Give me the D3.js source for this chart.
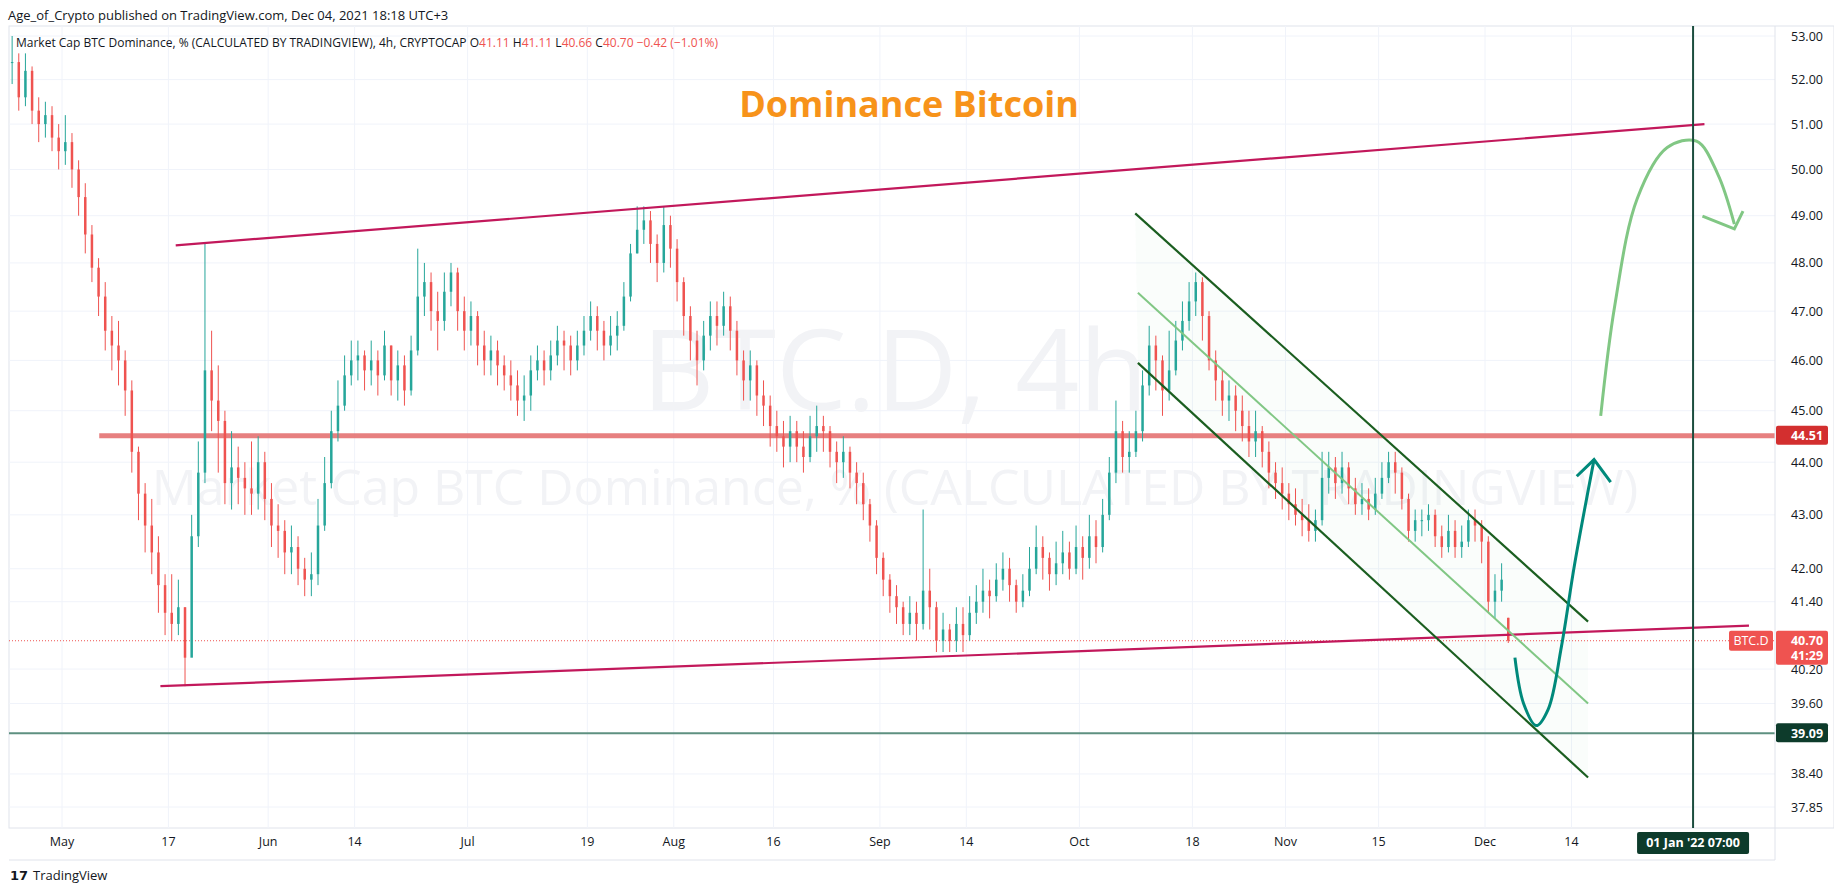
<!DOCTYPE html>
<html><head><meta charset="utf-8">
<script src="https://cdn.jsdelivr.net/npm/d3@7"></script>
<style>
body{margin:0;background:#fff;font-family:"Open Sans","DejaVu Sans",sans-serif}
svg text{font-family:"Open Sans","DejaVu Sans",sans-serif}
</style></head>
<body><svg id="c" width="1834" height="892"></svg>
<script>
// BTC.D 4h chart, daily bars (from Apr 23 2021)
const startDay=Date.UTC(2021,3,23);
const closes=[52.4,51.6,52.2,51.3,51.0,51.2,50.7,50.4,50.6,50.0,49.4,48.6,47.9,47.3,46.6,46.3,46.0,45.4,44.2,43.4,42.8,42.3,41.7,41.2,41.0,41.3,40.4,42.6,43.8,45.8,45.2,44.8,43.6,43.9,43.7,43.5,43.4,44.0,43.3,
42.8,42.7,42.3,42.4,42.0,41.8,41.9,42.8,43.6,44.6,45.1,45.7,46.0,46.1,45.8,46.0,45.7,46.3,45.6,45.9,45.4,46.2,47.3,47.6,47.0,46.8,47.4,47.8,47.0,46.6,46.9,46.3,46.0,46.2,
45.9,45.7,45.5,45.2,45.3,45.8,46.0,45.8,46.1,46.4,46.3,46.0,46.3,46.6,46.9,46.6,46.3,46.5,46.7,47.3,48.2,48.7,48.9,48.4,48.0,48.8,48.3,47.6,46.9,46.4,46.0,
46.5,46.9,46.7,47.1,46.6,46.0,45.6,45.9,45.3,45.1,44.7,44.5,44.3,44.6,44.3,44.1,44.5,44.7,44.6,44.2,44.0,44.2,43.8,43.6,43.2,42.8,42.2,
41.8,41.5,41.3,41.0,41.2,41.0,41.6,41.3,40.7,40.9,40.7,41.0,40.8,41.2,41.4,41.6,41.5,41.8,42.0,41.7,41.4,41.6,42.0,42.4,42.2,41.9,42.1,42.3,42.0,42.4,
42.2,42.6,42.4,43.0,43.8,44.6,44.1,44.2,44.6,45.5,46.3,46.0,45.4,45.8,46.4,46.8,47.2,47.6,46.9,46.0,45.6,45.2,45.3,45.0,44.7,44.4,44.6,44.2,43.8,43.6,43.4,
43.2,43.0,42.9,42.7,42.9,43.7,43.9,43.6,43.9,43.5,43.2,43.3,43.1,43.4,43.7,44.0,43.8,43.3,42.7,42.9,42.9,43.0,42.6,42.4,42.7,42.4,42.5,42.9,42.8,42.5,
41.4,41.6,41.8,40.7];
const highs=[53.0,52.6,52.6,52.3,51.6,51.5,51.4,51.0,51.2,50.8,50.2,49.7,48.8,48.1,47.6,46.9,46.8,46.2,45.6,44.3,43.6,43.3,42.6,41.9,41.9,41.8,41.3,43.0,44.4,48.4,46.6,45.9,45.0,44.6,44.3,44.0,44.4,44.5,44.2,
43.6,43.2,42.9,42.8,42.6,42.2,42.3,43.3,44.1,45.0,45.6,46.1,46.4,46.4,46.2,46.4,46.2,46.6,46.3,46.2,46.1,46.5,48.3,48.0,47.8,47.4,47.8,48.0,47.9,47.3,47.2,47.0,46.6,46.5,
46.4,46.1,46.0,45.8,45.7,46.1,46.3,46.2,46.4,46.7,46.6,46.5,46.6,46.9,47.2,47.1,46.8,46.9,47.0,47.6,48.4,49.2,49.2,49.1,48.6,49.2,49.0,48.5,47.7,47.1,46.6,
46.8,47.2,47.2,47.4,47.3,46.8,46.2,46.2,46.0,45.6,45.3,45.0,44.8,44.9,44.8,44.6,44.9,45.1,44.9,44.7,44.4,44.5,44.3,44.0,43.8,43.3,42.9,
42.3,41.9,41.7,41.4,41.5,41.4,43.1,42.0,41.4,41.2,41.0,41.3,41.3,41.5,41.7,42.0,41.8,42.1,42.3,42.2,41.8,41.9,42.4,42.8,42.6,42.3,42.5,42.7,42.5,42.8,
42.6,43.0,42.9,43.3,44.1,45.2,44.8,44.6,45.0,45.8,46.7,46.5,46.1,46.6,46.8,47.2,47.6,47.8,47.7,47.0,46.2,45.8,45.6,45.5,45.3,45.0,45.0,44.7,44.4,44.0,43.9,
43.6,43.5,43.3,43.2,43.1,44.2,44.2,44.1,44.2,44.0,43.7,43.6,43.5,43.7,44.0,44.2,44.2,43.9,43.4,43.1,43.1,43.2,43.1,42.8,43.0,42.9,42.8,43.1,43.1,42.9,
42.6,41.9,42.1,42.0];
const lows=[51.9,51.3,51.4,51.0,50.6,50.7,50.4,50.0,50.1,49.6,49.0,48.2,47.6,46.9,46.2,45.8,45.5,44.9,43.8,42.9,42.3,41.9,41.2,40.8,40.7,40.8,39.9,40.5,42.4,43.6,44.6,43.8,43.2,43.1,43.2,43.0,43.0,43.1,42.9,
42.4,42.2,41.9,41.9,41.7,41.5,41.5,41.7,42.7,43.5,44.4,45.0,45.5,45.6,45.4,45.5,45.3,45.6,45.3,45.2,45.1,45.3,46.1,46.9,46.6,46.2,46.6,47.1,46.6,46.2,46.3,45.9,45.7,45.7,
45.5,45.4,45.2,44.9,44.8,45.0,45.6,45.5,45.6,45.9,45.8,45.7,45.8,46.1,46.4,46.2,46.0,46.1,46.2,46.6,47.2,48.2,48.4,48.0,47.6,47.8,47.9,47.2,46.5,46.0,45.5,
45.8,46.2,46.3,46.5,46.2,45.7,45.2,45.2,44.9,44.7,44.3,44.2,43.9,44.0,44.0,43.8,44.0,44.2,44.2,43.9,43.6,43.7,43.5,43.2,42.9,42.5,41.9,
41.5,41.2,41.0,40.8,40.8,40.7,40.9,40.9,40.5,40.5,40.5,40.5,40.5,40.7,41.0,41.2,41.1,41.4,41.6,41.4,41.2,41.3,41.5,41.9,41.8,41.6,41.7,41.9,41.8,41.9,
41.8,42.0,42.1,42.3,42.9,43.6,43.8,43.8,44.1,44.4,45.3,45.4,44.9,45.2,45.7,46.2,46.6,46.9,46.4,45.8,45.2,44.9,44.8,44.6,44.4,44.1,44.1,43.9,43.5,43.3,43.1,
42.9,42.8,42.6,42.5,42.5,42.8,43.4,43.3,43.4,43.2,43.0,43.0,42.9,43.0,43.3,43.6,43.4,43.1,42.5,42.5,42.6,42.7,42.4,42.2,42.3,42.2,42.2,42.4,42.5,42.1,
41.2,41.1,41.4,40.6];

const priceTicks=[53,52,51,50,49,48,47,46,45,44,43,42,41.4,40.2,39.6,38.4,37.85];
const dateTicks=[["2021-05-01","May"],["2021-05-17","17"],["2021-06-01","Jun"],["2021-06-14","14"],["2021-07-01","Jul"],["2021-07-19","19"],
 ["2021-08-01","Aug"],["2021-08-16","16"],["2021-09-01","Sep"],["2021-09-14","14"],["2021-10-01","Oct"],["2021-10-18","18"],
 ["2021-11-01","Nov"],["2021-11-15","15"],["2021-12-01","Dec"],["2021-12-14","14"]];

// drawings: [days since May 1, price]
const upperTrend=[[17.1,48.37],[247,51.0]];
const lowerTrend=[[14.8,39.9],[253.7,40.97]];
const chanTop=[[161.4,49.05],[229.5,41.04]];
const chanMid=[[161.8,47.38],[229.5,39.6]];
const chanBot=[[161.8,45.95],[229.5,38.34]];
const tealArc=[[218.5,40.4],[219.8,39.6],[221.7,39.22],[223.5,39.5],[225.5,40.6],[227.5,42.1],[230.4,44.05]];
const tealHead=[[227.8,43.73],[230.4,44.05],[232.9,43.62]];
const greenArc=[[231.4,44.9],[233.5,47.1],[236.9,49.37],[241.4,50.48],[245.8,50.62],[249,49.9],[251.5,48.82]];
const greenHead=[[246.7,48.99],[251.5,48.72],[252.8,49.1]];
const resistance=44.51, support=39.09, lastPrice=40.70;

const svg=d3.select("#c");
const L=9,R=1775,T=26,B=828;
const may1=Date.UTC(2021,4,1);
const x=d3.scaleUtc().domain([new Date(may1),new Date(Date.UTC(2021,11,1))]).range([62,1485]);
const y=d3.scaleLog().domain([53,37.85]).range([36,807]);
const dx=d=>x(new Date(may1+d*864e5));
const pt=p=>[dx(p[0]),y(p[1])];

// header
svg.append("text").attr("x",8).attr("y",20).attr("font-size",13).attr("fill","#131722").text("Age_of_Crypto published on TradingView.com, Dec 04, 2021 18:18 UTC+3");
svg.append("rect").attr("x",L).attr("y",T).attr("width",1834-L).attr("height",B-T).attr("fill","none").attr("stroke","#e0e3eb");

svg.append("clipPath").attr("id","pl").append("rect").attr("x",L).attr("y",T).attr("width",R-L).attr("height",B-T);
const g=svg.append("g").attr("clip-path","url(#pl)");

// grid
g.selectAll(".hg").data(priceTicks).enter().append("line").attr("x1",L).attr("x2",R).attr("y1",d=>y(d)).attr("y2",d=>y(d)).attr("stroke","#f0f3fa");
g.selectAll(".vg").data(dateTicks).enter().append("line").attr("y1",T).attr("y2",B).attr("x1",d=>x(new Date(d[0]))).attr("x2",d=>x(new Date(d[0]))).attr("stroke","#f0f3fa");

// watermark
g.append("text").attr("x",895).attr("y",410).attr("text-anchor","middle").attr("font-size",112).attr("fill","#f2f3f6").text("BTC.D, 4h");
g.append("text").attr("x",895).attr("y",505).attr("text-anchor","middle").attr("font-size",50).attr("fill","#f2f3f6").text("Market Cap BTC Dominance, % (CALCULATED BY TRADINGVIEW)");

// channel fill
const poly=[pt(chanTop[0]),pt(chanTop[1]),pt(chanBot[1]),pt(chanBot[0])];
g.append("path").attr("d","M"+poly.join("L")+"Z").attr("fill","rgba(120,190,140,0.035)");

// horizontal levels
g.append("line").attr("x1",dx(5.6)).attr("x2",R).attr("y1",y(resistance)).attr("y2",y(resistance)).attr("stroke","#e57373").attr("stroke-width",5).attr("opacity",.9);
g.append("line").attr("x1",L).attr("x2",R).attr("y1",y(support)).attr("y2",y(support)).attr("stroke","#5e9080").attr("stroke-width",2);
g.append("line").attr("x1",L).attr("x2",R).attr("y1",y(lastPrice)).attr("y2",y(lastPrice)).attr("stroke","#ef5350").attr("stroke-dasharray","1,2");

// candles
const bars=closes.map((c,i)=>({t:startDay+i*864e5+432e5,o:i?closes[i-1]:c,c:c,h:highs[i],l:lows[i]}));
bars[bars.length-1].o=41.11;bars[bars.length-1].h=41.11;bars[bars.length-1].l=40.66;
const col=d=>d.c>=d.o?"#26a69a":"#ef5350";
const cg=g.append("g");
cg.selectAll("line").data(bars).enter().append("line").attr("x1",d=>x(new Date(d.t))).attr("x2",d=>x(new Date(d.t)))
 .attr("y1",d=>y(d.h)).attr("y2",d=>y(d.l)).attr("stroke",col).attr("stroke-width",1);
cg.selectAll("rect").data(bars).enter().append("rect").attr("x",d=>x(new Date(d.t))-1.25).attr("width",2.5)
 .attr("y",d=>y(Math.max(d.o,d.c))).attr("height",d=>Math.max(1,Math.abs(y(d.o)-y(d.c)))).attr("fill",col);

// trendlines
const ln=(a,c,w)=>g.append("line").attr("x1",pt(a[0])[0]).attr("y1",pt(a[0])[1]).attr("x2",pt(a[1])[0]).attr("y2",pt(a[1])[1]).attr("stroke",c).attr("stroke-width",w);
ln(upperTrend,"#c2185b",2.2);ln(lowerTrend,"#c2185b",2.2);
ln(chanTop,"#1b5e20",2.2);ln(chanBot,"#1b5e20",2.2);ln(chanMid,"#81c784",2);

const curve=d3.line().x(p=>pt(p)[0]).y(p=>pt(p)[1]).curve(d3.curveCatmullRom);
const poly2=d3.line().x(p=>pt(p)[0]).y(p=>pt(p)[1]);
g.append("path").attr("d",curve(tealArc)).attr("fill","none").attr("stroke","#00897b").attr("stroke-width",3);
g.append("path").attr("d",poly2(tealHead)).attr("fill","none").attr("stroke","#00897b").attr("stroke-width",3);
g.append("path").attr("d",curve(greenArc)).attr("fill","none").attr("stroke","#81c784").attr("stroke-width",3);
g.append("path").attr("d",poly2(greenHead)).attr("fill","none").attr("stroke","#81c784").attr("stroke-width",3);

// vertical marker Jan 1 07:00
const jx=dx(245.29);
g.append("line").attr("x1",jx).attr("x2",jx).attr("y1",T).attr("y2",B).attr("stroke","#1b4d3e").attr("stroke-width",2);

// title
svg.append("text").attr("x",909).attr("y",117).attr("text-anchor","middle").attr("font-size",36).attr("font-weight","bold").attr("fill","#f7931a").text("Dominance Bitcoin");

// legend
const lg=svg.append("text").attr("x",16).attr("y",47).attr("font-size",12).attr("fill","#131722");
lg.append("tspan").text("Market Cap BTC Dominance, % (CALCULATED BY TRADINGVIEW), 4h, CRYPTOCAP  O");
lg.append("tspan").attr("fill","#ef5350").text("41.11");
lg.append("tspan").text("  H");lg.append("tspan").attr("fill","#ef5350").text("41.11");
lg.append("tspan").text("  L");lg.append("tspan").attr("fill","#ef5350").text("40.66");
lg.append("tspan").text("  C");lg.append("tspan").attr("fill","#ef5350").text("40.70  −0.42 (−1.01%)");

// price axis
svg.append("line").attr("x1",R).attr("x2",R).attr("y1",T).attr("y2",B+32).attr("stroke","#e0e3eb");
svg.selectAll(".pt").data(priceTicks).enter().append("text").attr("x",1807).attr("y",d=>y(d)+4.5).attr("text-anchor","middle")
 .attr("font-size",12.5).attr("fill","#131722").text(d=>d.toFixed(2));
const tag=(v,fill,lines)=>{const yy=y(v);const h=lines.length*15+4;
 svg.append("rect").attr("x",R+1).attr("y",yy-10).attr("width",52).attr("height",h).attr("fill",fill).attr("rx",2);
 lines.forEach((t,i)=>svg.append("text").attr("x",1807).attr("y",yy+4.5+i*15).attr("text-anchor","middle").attr("font-size",12.5).attr("font-weight","bold").attr("fill","#fff").text(t));};
tag(resistance,"#d32f2f",["44.51"]);
tag(support,"#0d3b2b",["39.09"]);
tag(lastPrice,"#ef5350",["40.70","41:29"]);
svg.append("rect").attr("x",1729).attr("y",y(lastPrice)-10).attr("width",44).attr("height",20).attr("fill","#ef5350").attr("rx",2);
svg.append("text").attr("x",1751).attr("y",y(lastPrice)+4.5).attr("text-anchor","middle").attr("font-size",12.5).attr("fill","#fff").text("BTC.D");

// time axis
svg.selectAll(".dt").data(dateTicks).enter().append("text").attr("x",d=>x(new Date(d[0]))).attr("y",846).attr("text-anchor","middle")
 .attr("font-size",12.5).attr("fill","#131722").text(d=>d[1]);
svg.append("line").attr("x1",L).attr("x2",R).attr("y1",B+32).attr("y2",B+32).attr("stroke","#e0e3eb");
svg.append("rect").attr("x",jx-56).attr("y",832).attr("width",112).attr("height",22).attr("fill","#0d3b2b").attr("rx",2);
svg.append("text").attr("x",jx).attr("y",847).attr("text-anchor","middle").attr("font-size",12.5).attr("font-weight","bold").attr("fill","#fff").text("01 Jan '22   07:00");

// footer
svg.append("text").attr("x",10).attr("y",880).attr("font-size",13).attr("font-weight","bold").attr("fill","#131722").text("𝟭𝟳");
svg.append("text").attr("x",33).attr("y",880).attr("font-size",13).attr("fill","#131722").text("TradingView");
</script></body></html>
